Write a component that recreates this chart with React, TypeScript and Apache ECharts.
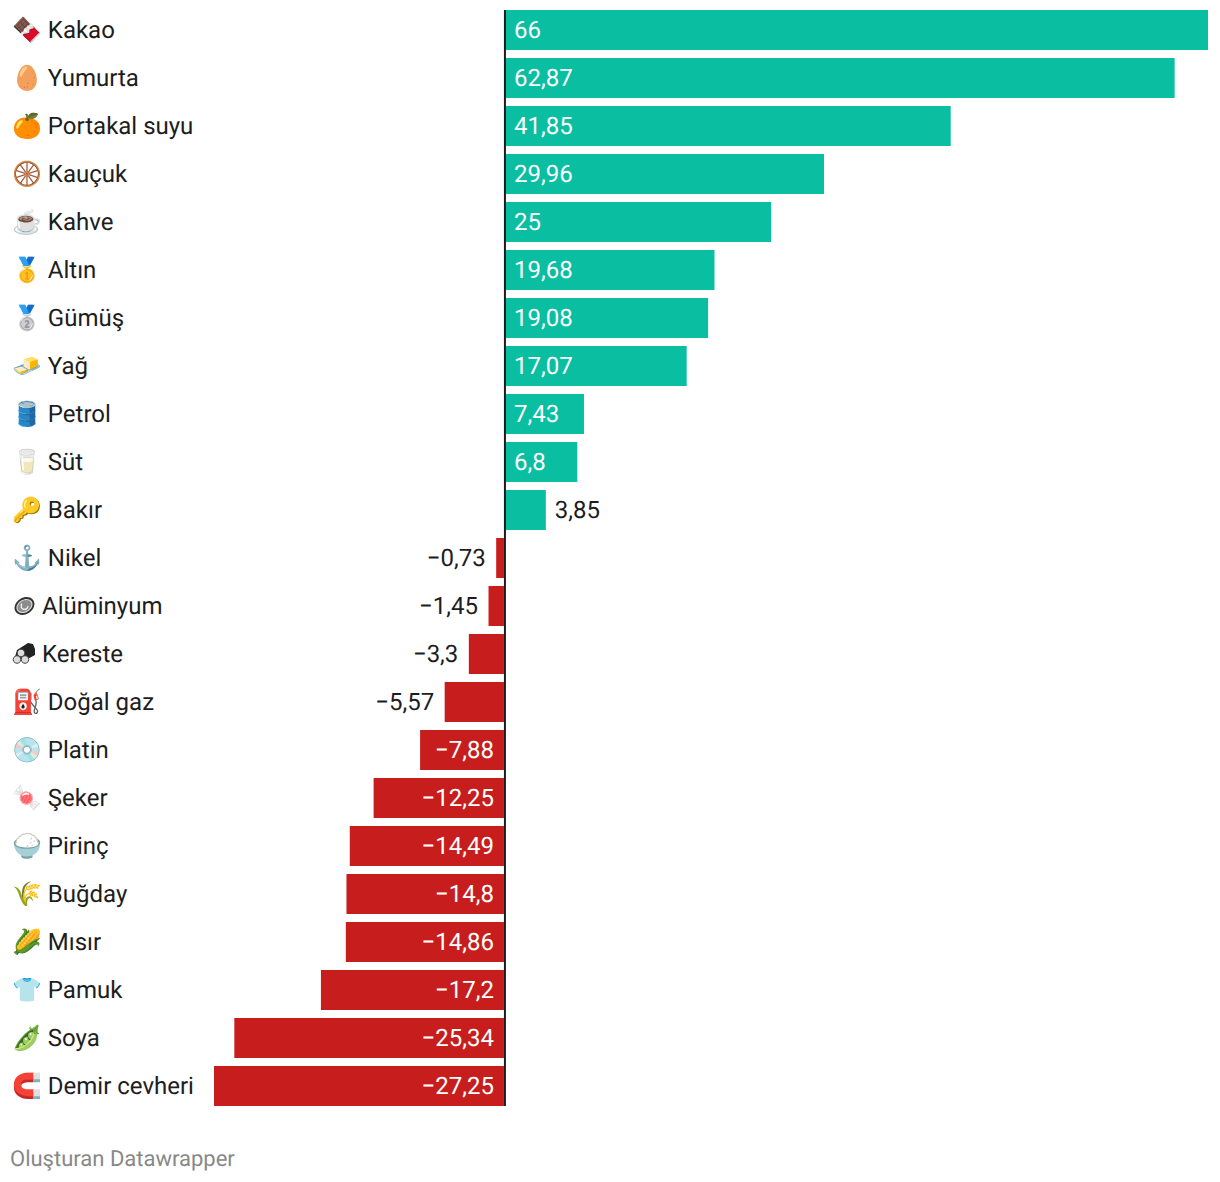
import React, { useEffect, useRef } from "react";
import * as echarts from "echarts";

const categories = ["🍫 Kakao","🥚 Yumurta","🍊 Portakal suyu","🛞 Kauçuk","☕ Kahve","🥇 Altın","🥈 Gümüş","🧈 Yağ","🛢️ Petrol","🥛 Süt","🔑 Bakır","⚓ Nikel","Alüminyum","Kereste","⛽ Doğal gaz","💿 Platin","🍬 Şeker","🍚 Pirinç","🌾 Buğday","🌽 Mısır","👕 Pamuk","🫛 Soya","🧲 Demir cevheri"];
const values = [66,62.87,41.85,29.96,25,19.68,19.08,17.07,7.43,6.8,3.85,-0.73,-1.45,-3.3,-5.57,-7.88,-12.25,-14.49,-14.8,-14.86,-17.2,-25.34,-27.25];
const drawnIconRows = ["Alüminyum", "Kereste"];
const FONT = "Roboto, sans-serif";
const INK = "#1d1d1d";
const fmt = (v: number) => String(v).replace(".", ",").replace("-", "\u2212");

const barItem = (v: number) => {
  const inside = Math.abs(v) >= 6;
  return {
    value: v,
    label: {
      show: true,
      formatter: fmt(v),
      fontFamily: FONT, fontSize: 24,
      color: inside ? "#ffffff" : INK,
      position: inside ? (v > 0 ? "insideLeft" : "insideRight") : (v > 0 ? "right" : "left"),
      distance: inside ? (v > 0 ? 9.2 : 10) : (v > 0 ? 9 : 10.5),
    },
  };
};

const coinIcon = (y: number) => ({
  type: "group", x: 24.5, y, rotation: 0.55,
  children: [
    { type: "ellipse", shape: { cx: 0, cy: 0, rx: 10.5, ry: 8.2 }, style: { fill: "#333333" } },
    { type: "ellipse", shape: { cx: 0, cy: 0, rx: 8.6, ry: 6.4 }, style: { fill: "#d8d8d8" } },
    { type: "ellipse", shape: { cx: 0, cy: 0, rx: 7.4, ry: 5.3 }, style: { fill: "#8c8c8c" } },
    { type: "arc", shape: { cx: 0, cy: 0, r: 3.4, startAngle: 0.6, endAngle: 4.4 }, style: { stroke: "#f5f5f5", lineWidth: 1.3, fill: null } },
  ],
});

const logsIcon = (y: number) => ({
  type: "group", x: 0, y,
  children: [
    { type: "polygon", shape: { points: [[17, -4], [28, -11], [33, -10], [35, -5], [35, 1], [24, 7], [15, 3]] }, style: { fill: "#222222" } },
    { type: "circle", shape: { cx: 21, cy: -1, r: 3.8 }, style: { fill: "#dcdcdc", stroke: "#444444", lineWidth: 1 } },
    { type: "circle", shape: { cx: 17, cy: 5.5, r: 3.8 }, style: { fill: "#dcdcdc", stroke: "#444444", lineWidth: 1 } },
    { type: "circle", shape: { cx: 25, cy: 5.5, r: 3.8 }, style: { fill: "#dcdcdc", stroke: "#444444", lineWidth: 1 } },
  ],
});

export default function App() {
  const ref = useRef<HTMLDivElement>(null);
  useEffect(() => {
    document.body.style.margin = "0";
    const chart = echarts.init(ref.current!, null, { renderer: "svg" });
    chart.setOption({
      animation: false,
      backgroundColor: "#ffffff",
      textStyle: { fontFamily: FONT },
      grid: { left: 214, right: 12, top: 6, height: 1104 },
      xAxis: [
        { type: "value", min: -27.295, max: 66, show: false },
        { type: "value", min: -27.25, max: 66.17, show: false },
      ],
      yAxis: {
        type: "category", data: categories, inverse: true,
        axisLine: { show: false }, axisTick: { show: false },
        axisLabel: {
          align: "left", margin: 202, fontFamily: FONT, fontSize: 24, color: INK, interval: 0,
          formatter: (v: string) => (drawnIconRows.includes(v) ? `{pad| }{t|${v}}` : v),
          rich: {
            pad: { width: 30, fontSize: 24 },
            t: { fontFamily: FONT, fontSize: 24, color: INK },
          },
        },
      },
      series: [
        {
          type: "bar", xAxisIndex: 0, barWidth: 40, barGap: "-100%",
          itemStyle: { color: "#09bea1" },
          data: values.map((v) => (v > 0 ? barItem(v) : null)),
        },
        {
          type: "bar", xAxisIndex: 1, barWidth: 40, barGap: "-100%",
          itemStyle: { color: "#c71e1d" },
          data: values.map((v) => (v < 0 ? barItem(v) : null)),
        },
        {
          type: "custom", xAxisIndex: 1, silent: true, z: 5, data: [[0, 0]],
          renderItem: (_p: any, api: any) => {
            const a = api.coord([0, 0]);
            const b = api.coord([0, categories.length - 1]);
            return { type: "rect", shape: { x: a[0], y: a[1] - 20, width: 2, height: b[1] - a[1] + 40 }, style: { fill: INK } };
          },
        },
        {
          type: "custom", xAxisIndex: 1, silent: true, clip: false, data: drawnIconRows.map((c) => [0, categories.indexOf(c)]),
          renderItem: (p: any, api: any) => {
            const y = api.coord([0, categories.indexOf(drawnIconRows[p.dataIndex])])[1];
            return p.dataIndex === 0 ? coinIcon(y) : logsIcon(y);
          },
        },
      ],
      graphic: [{ type: "text", left: 10, top: 1148, style: { text: "Oluşturan Datawrapper", fontFamily: FONT, fontSize: 22, fill: "#888888" } }],
    });
    return () => chart.dispose();
  }, []);
  return <div ref={ref} style={{ width: 1220, height: 1182, textRendering: "geometricPrecision" }} />;
}
